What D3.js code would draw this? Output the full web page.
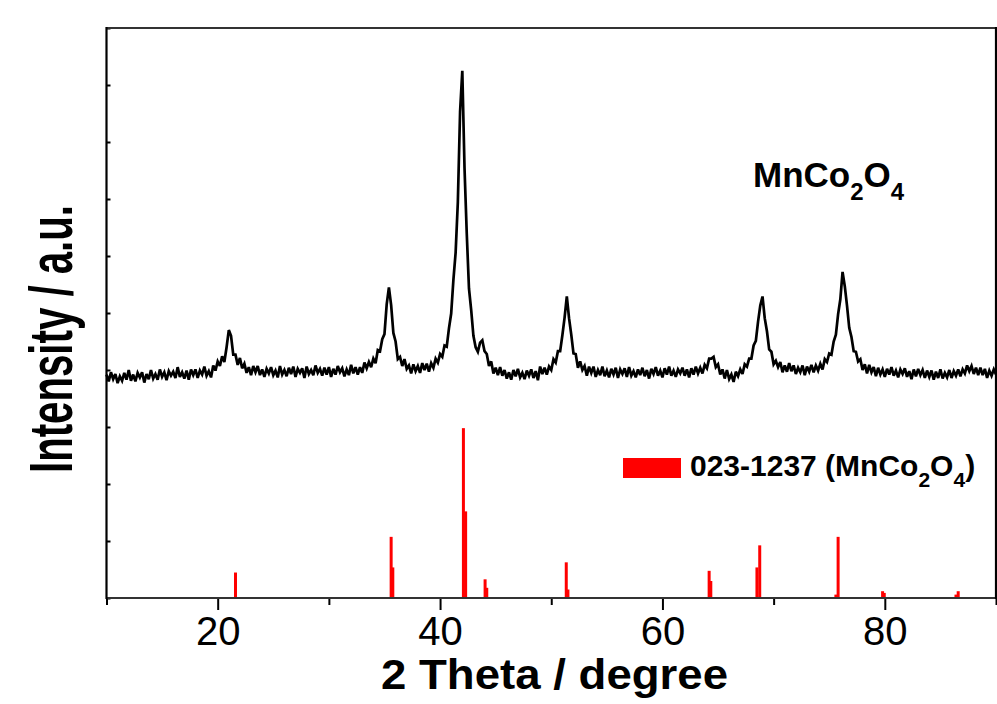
<!DOCTYPE html>
<html>
<head>
<meta charset="utf-8">
<script src="https://cdn.jsdelivr.net/npm/d3@7/dist/d3.min.js"></script>
<style>
  html, body { margin: 0; padding: 0; background: #fff; }
  svg { display: block; }
  text { font-family: "Liberation Sans", Arial, Helvetica, sans-serif; fill: #000; }
</style>
</head>
<body>
<svg id="chart" width="997" height="704"></svg>
<script>
// Measured XRD pattern: 2θ from 10° to 90°, one reading every 0.2°
const twoThetaStart = 10;
const twoThetaStep = 0.2;
const intensity = [
  392,380,396,384,393,377,389,381,395,383,
  400,381,392,380,395,387,396,378,393,384,
  400,385,393,383,401,388,396,382,398,390,
  397,386,405,388,396,385,399,383,401,391,
  401,386,399,392,406,390,398,387,408,399,
  415,407,424,414,440,470,460,427,427,409,
  421,403,411,395,405,391,407,396,407,391,
  401,388,402,394,405,391,399,387,407,392,
  400,389,404,393,406,388,402,395,403,386,
  406,393,400,391,408,395,402,390,404,392,
  405,388,402,392,407,396,403,389,401,391,
  409,394,405,392,405,395,413,403,414,405,
  420,412,435,433,454,463,515,545,514,465,
  450,419,423,407,419,402,408,394,410,398,
  407,395,412,400,411,397,412,404,420,413,
  428,423,443,441,473,499,558,606,695,853,
  925,754,640,543,505,460,440,432,448,452,
  433,428,407,415,394,404,391,405,390,400,
  385,396,383,400,389,402,387,395,384,399,
  390,401,386,398,382,406,393,404,392,406,
  400,419,413,433,433,461,492,529,491,462,
  429,428,404,415,400,407,390,406,395,406,
  388,400,391,406,389,399,387,402,392,404,
  386,401,393,403,388,405,390,398,387,401,
  391,404,389,400,385,402,393,405,390,399,
  387,403,392,406,390,399,388,401,394,404,
  390,401,387,403,392,406,394,404,394,409,
  403,420,420,423,405,410,392,401,385,400,
  384,392,379,397,389,401,393,410,406,420,
  420,443,451,485,513,529,491,468,436,432,
  410,416,405,414,396,408,397,412,398,408,
  393,404,396,408,391,406,397,409,396,408,
  399,411,401,419,414,429,427,450,462,498,
  524,572,547,513,474,458,433,432,415,419,
  400,410,394,409,396,405,389,404,392,401,
  388,402,392,405,390,399,387,401,393,403,
  388,398,384,401,389,402,391,400,386,399,
  388,399,383,397,386,401,385,395,387,400,
  386,398,390,401,389,401,394,408,398,407,
  393,404,391,404,391,402,386,399,390,401,
  392
];

// Reference card 023-1237 (MnCo2O4): line positions (2θ) and relative intensities (%)
const refPositions   = [21.6, 35.6, 35.75, 42.1, 42.3, 44.05, 44.2, 51.35, 51.5, 64.2, 64.35, 68.5, 68.75, 75.6, 75.8, 79.8, 79.95, 86.4, 86.6];
const refIntensities = [15,   36,   18,    100,  51,   11,    6,    21,    5,    16,   10,    18,   31,    2,    36,   4,    3,     2,    4];

// Axis ticks
const xMajorTicks = [20, 40, 60, 80];
const xMinorTicks = [10, 30, 50, 70, 90];
const yTicks = d3.range(0, 1001, 100);

const xLabel = "2 Theta / degree";
const yLabel = "Intensity / a.u.";
const refCardLabel = "023-1237";

const svg = d3.select("#chart");
const plot = { left: 106.5, right: 996, top: 28, bottom: 598 };

const x = d3.scaleLinear().domain([10, 90]).range([plot.left, plot.right]);
const y = d3.scaleLinear().domain([0, 1000]).range([plot.bottom, plot.top]);
// reference lines occupy the lower part of the intensity axis: 100 % -> 298 a.u.
const refFullHeight = 298;
const yRef = d3.scaleLinear().domain([0, 100]).range([y(0), y(refFullHeight)]);

const fontFamily = '"Liberation Sans", Arial, Helvetica, sans-serif';

// --- reference stick pattern
svg.append("g")
  .selectAll("line")
  .data(refPositions.map((p, i) => ({ p, v: refIntensities[i] })))
  .join("line")
  .attr("x1", d => x(d.p)).attr("x2", d => x(d.p))
  .attr("y1", y(0)).attr("y2", d => yRef(d.v))
  .attr("stroke", "#ff0000")
  .attr("stroke-width", 3);

// --- measured pattern (noisy trace drawn as a heavy line)
const pattern = intensity.map((v, i) => ({ t: twoThetaStart + i * twoThetaStep, v }));
svg.append("path")
  .datum(pattern)
  .attr("fill", "none")
  .attr("stroke", "#000")
  .attr("stroke-width", 2.7)
  .attr("stroke-linejoin", "miter")
  .attr("stroke-miterlimit", 3)
  .attr("d", d3.line().x(d => x(d.t)).y(d => y(d.v)));

// --- axes
const axisBottomMinor = d3.axisBottom(x).tickValues(xMinorTicks).tickSize(7).tickFormat("");
const axisBottomMajor = d3.axisBottom(x).tickValues(xMajorTicks).tickSize(12).tickPadding(7).tickFormat(d3.format("d"));

const gxMinor = svg.append("g").attr("transform", `translate(0,${plot.bottom})`).call(axisBottomMinor);
const gxMajor = svg.append("g").attr("transform", `translate(0,${plot.bottom})`).call(axisBottomMajor);
[gxMinor, gxMajor].forEach(g => {
  g.select(".domain").remove();
  g.selectAll(".tick line").attr("stroke", "#000").attr("stroke-width", 2);
});
gxMajor.selectAll(".tick text")
  .attr("font-family", fontFamily)
  .attr("font-size", 40)
  .attr("fill", "#000");

const gy = svg.append("g").attr("transform", `translate(${plot.left},0)`)
  .call(d3.axisLeft(y).tickValues(yTicks).tickSizeInner(-4).tickSizeOuter(0).tickFormat(""));
gy.select(".domain").remove();
gy.selectAll(".tick line").attr("stroke", "#000").attr("stroke-width", 2);

// frame
const frame = svg.append("g").attr("stroke", "#000").attr("stroke-width", 2.2).attr("fill", "none");
frame.append("line").attr("x1", plot.left).attr("x2", plot.right).attr("y1", plot.bottom).attr("y2", plot.bottom).attr("stroke", "#333");
frame.append("line").attr("x1", plot.left).attr("x2", plot.right).attr("y1", plot.top).attr("y2", plot.top).attr("stroke", "#333");
frame.append("line").attr("x1", plot.left).attr("x2", plot.left).attr("y1", plot.top - 1).attr("y2", plot.bottom + 1);
frame.append("line").attr("x1", plot.right).attr("x2", plot.right).attr("y1", plot.top - 1).attr("y2", plot.bottom + 1);

// --- axis titles
svg.append("text")
  .attr("x", 554.5).attr("y", 689)
  .attr("text-anchor", "middle")
  .attr("font-size", 42).attr("font-weight", "bold")
  .attr("textLength", 347).attr("lengthAdjust", "spacingAndGlyphs")
  .text(xLabel);

svg.append("text")
  .attr("transform", "translate(72,339) rotate(-90)")
  .attr("text-anchor", "middle")
  .attr("font-size", 61).attr("font-weight", "bold")
  .attr("textLength", 268).attr("lengthAdjust", "spacingAndGlyphs")
  .text(yLabel);

// --- formula written with subscripts
function formula(sel, size, subSize, subShift) {
  sel.append("tspan").text("MnCo");
  sel.append("tspan").attr("font-size", subSize).attr("dy", subShift).text("2");
  sel.append("tspan").attr("font-size", size).attr("dy", -subShift).text("O");
  sel.append("tspan").attr("font-size", subSize).attr("dy", subShift).text("4");
}

const sampleLabel = svg.append("text")
  .attr("x", 753).attr("y", 187)
  .attr("font-size", 35).attr("font-weight", "bold");
formula(sampleLabel, 35, 24, 13);

// --- legend
svg.append("rect")
  .attr("x", 623).attr("y", 458).attr("width", 58).attr("height", 20)
  .attr("fill", "#ff0000");

const legendText = svg.append("text")
  .attr("x", 690).attr("y", 476)
  .attr("font-size", 30).attr("font-weight", "bold");
legendText.append("tspan").text(refCardLabel + " (");
formula(legendText, 30, 21, 11);
legendText.append("tspan").attr("font-size", 30).attr("dy", -11).text(")");
</script>
</body>
</html>
